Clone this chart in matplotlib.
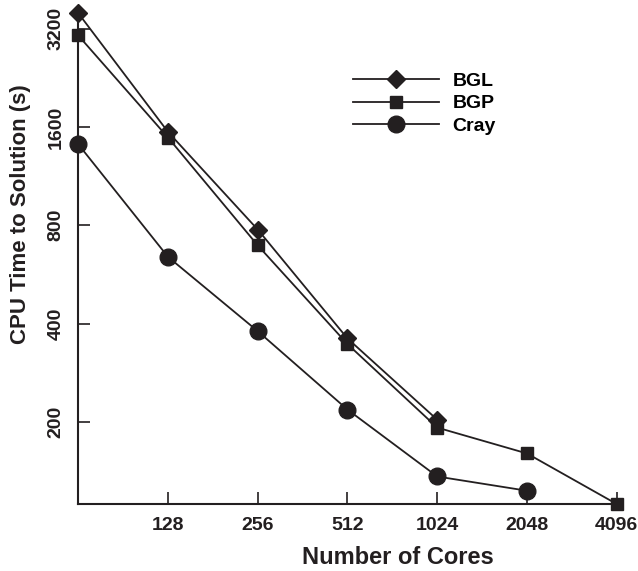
import matplotlib
matplotlib.use('Agg')
import matplotlib.pyplot as plt
from matplotlib.ticker import FixedLocator, NullLocator, FixedFormatter

plt.rcParams['font.family'] = ['Liberation Sans', 'DejaVu Sans']
plt.rcParams['font.weight'] = 'bold'

# cores (log2 axis) and CPU time
cores_bgl = [64, 128, 256, 512, 1024]
bgl = [3570, 1545, 776, 360, 203]
cores_bgp = [64, 128, 256, 512, 1024, 2048, 4096]
bgp = [3050, 1485, 694, 346, 192, 160, 112]
cores_cray = [64, 128, 256, 512, 1024, 2048]
cray = [1416, 640, 379, 218, 136, 123]

xticks = [128, 256, 512, 1024, 2048, 4096]
yticks = [200, 400, 800, 1600, 3200]

fig = plt.figure(figsize=(6.38, 5.71), dpi=100)
ax = fig.add_axes([0.1227, 0.1173, 0.9666 - 0.1227, 0.979 - 0.1173])

c = '#231f20'
ax.plot(cores_bgl, bgl, color=c, lw=1.3, marker='D', ms=8.7, label='BGL', clip_on=False, zorder=3)
ax.plot(cores_bgp, bgp, color=c, lw=1.3, marker='s', ms=9, label='BGP', clip_on=False, zorder=3)
ax.plot(cores_cray, cray, color=c, lw=1.3, marker='o', ms=12, label='Cray', clip_on=False, zorder=3)

ax.set_xscale('log', base=2)
ax.set_yscale('log', base=2)
ax.set_xlim(64, 4096)
ax.set_ylim(112, 3600)

ax.xaxis.set_major_locator(FixedLocator(xticks))
ax.xaxis.set_major_formatter(FixedFormatter([str(v) for v in xticks]))
ax.xaxis.set_minor_locator(NullLocator())
ax.yaxis.set_major_locator(FixedLocator(yticks))
ax.yaxis.set_major_formatter(FixedFormatter([str(v) for v in yticks]))
ax.yaxis.set_minor_locator(NullLocator())

ax.spines['top'].set_visible(False)
ax.spines['right'].set_visible(False)
for s in ['left', 'bottom']:
    ax.spines[s].set_linewidth(1.5)
    ax.spines[s].set_color(c)

ax.tick_params(axis='both', direction='in', length=8.5, width=1.2, colors=c, labelsize=14)
ax.tick_params(axis='x', pad=9)
ax.tick_params(axis='y', pad=10)
for lab in ax.get_yticklabels():
    lab.set_rotation(90)
    lab.set_va('center')

ax.set_xlabel('Number of Cores', fontsize=17, fontweight='bold', color=c, labelpad=6)
ax.xaxis.set_label_coords(0.594, -0.085)
ax.set_ylabel('CPU Time to Solution (s)', fontsize=16, fontweight='bold', color=c)
ax.yaxis.set_label_coords(-0.088, 0.59)

ax.legend(loc='upper left', bbox_to_anchor=(0.493, 0.897), frameon=False, fontsize=14,
          handlelength=4.4, handletextpad=0.7, labelspacing=0.25, borderpad=0)

fig.savefig('out.png', dpi=100)
